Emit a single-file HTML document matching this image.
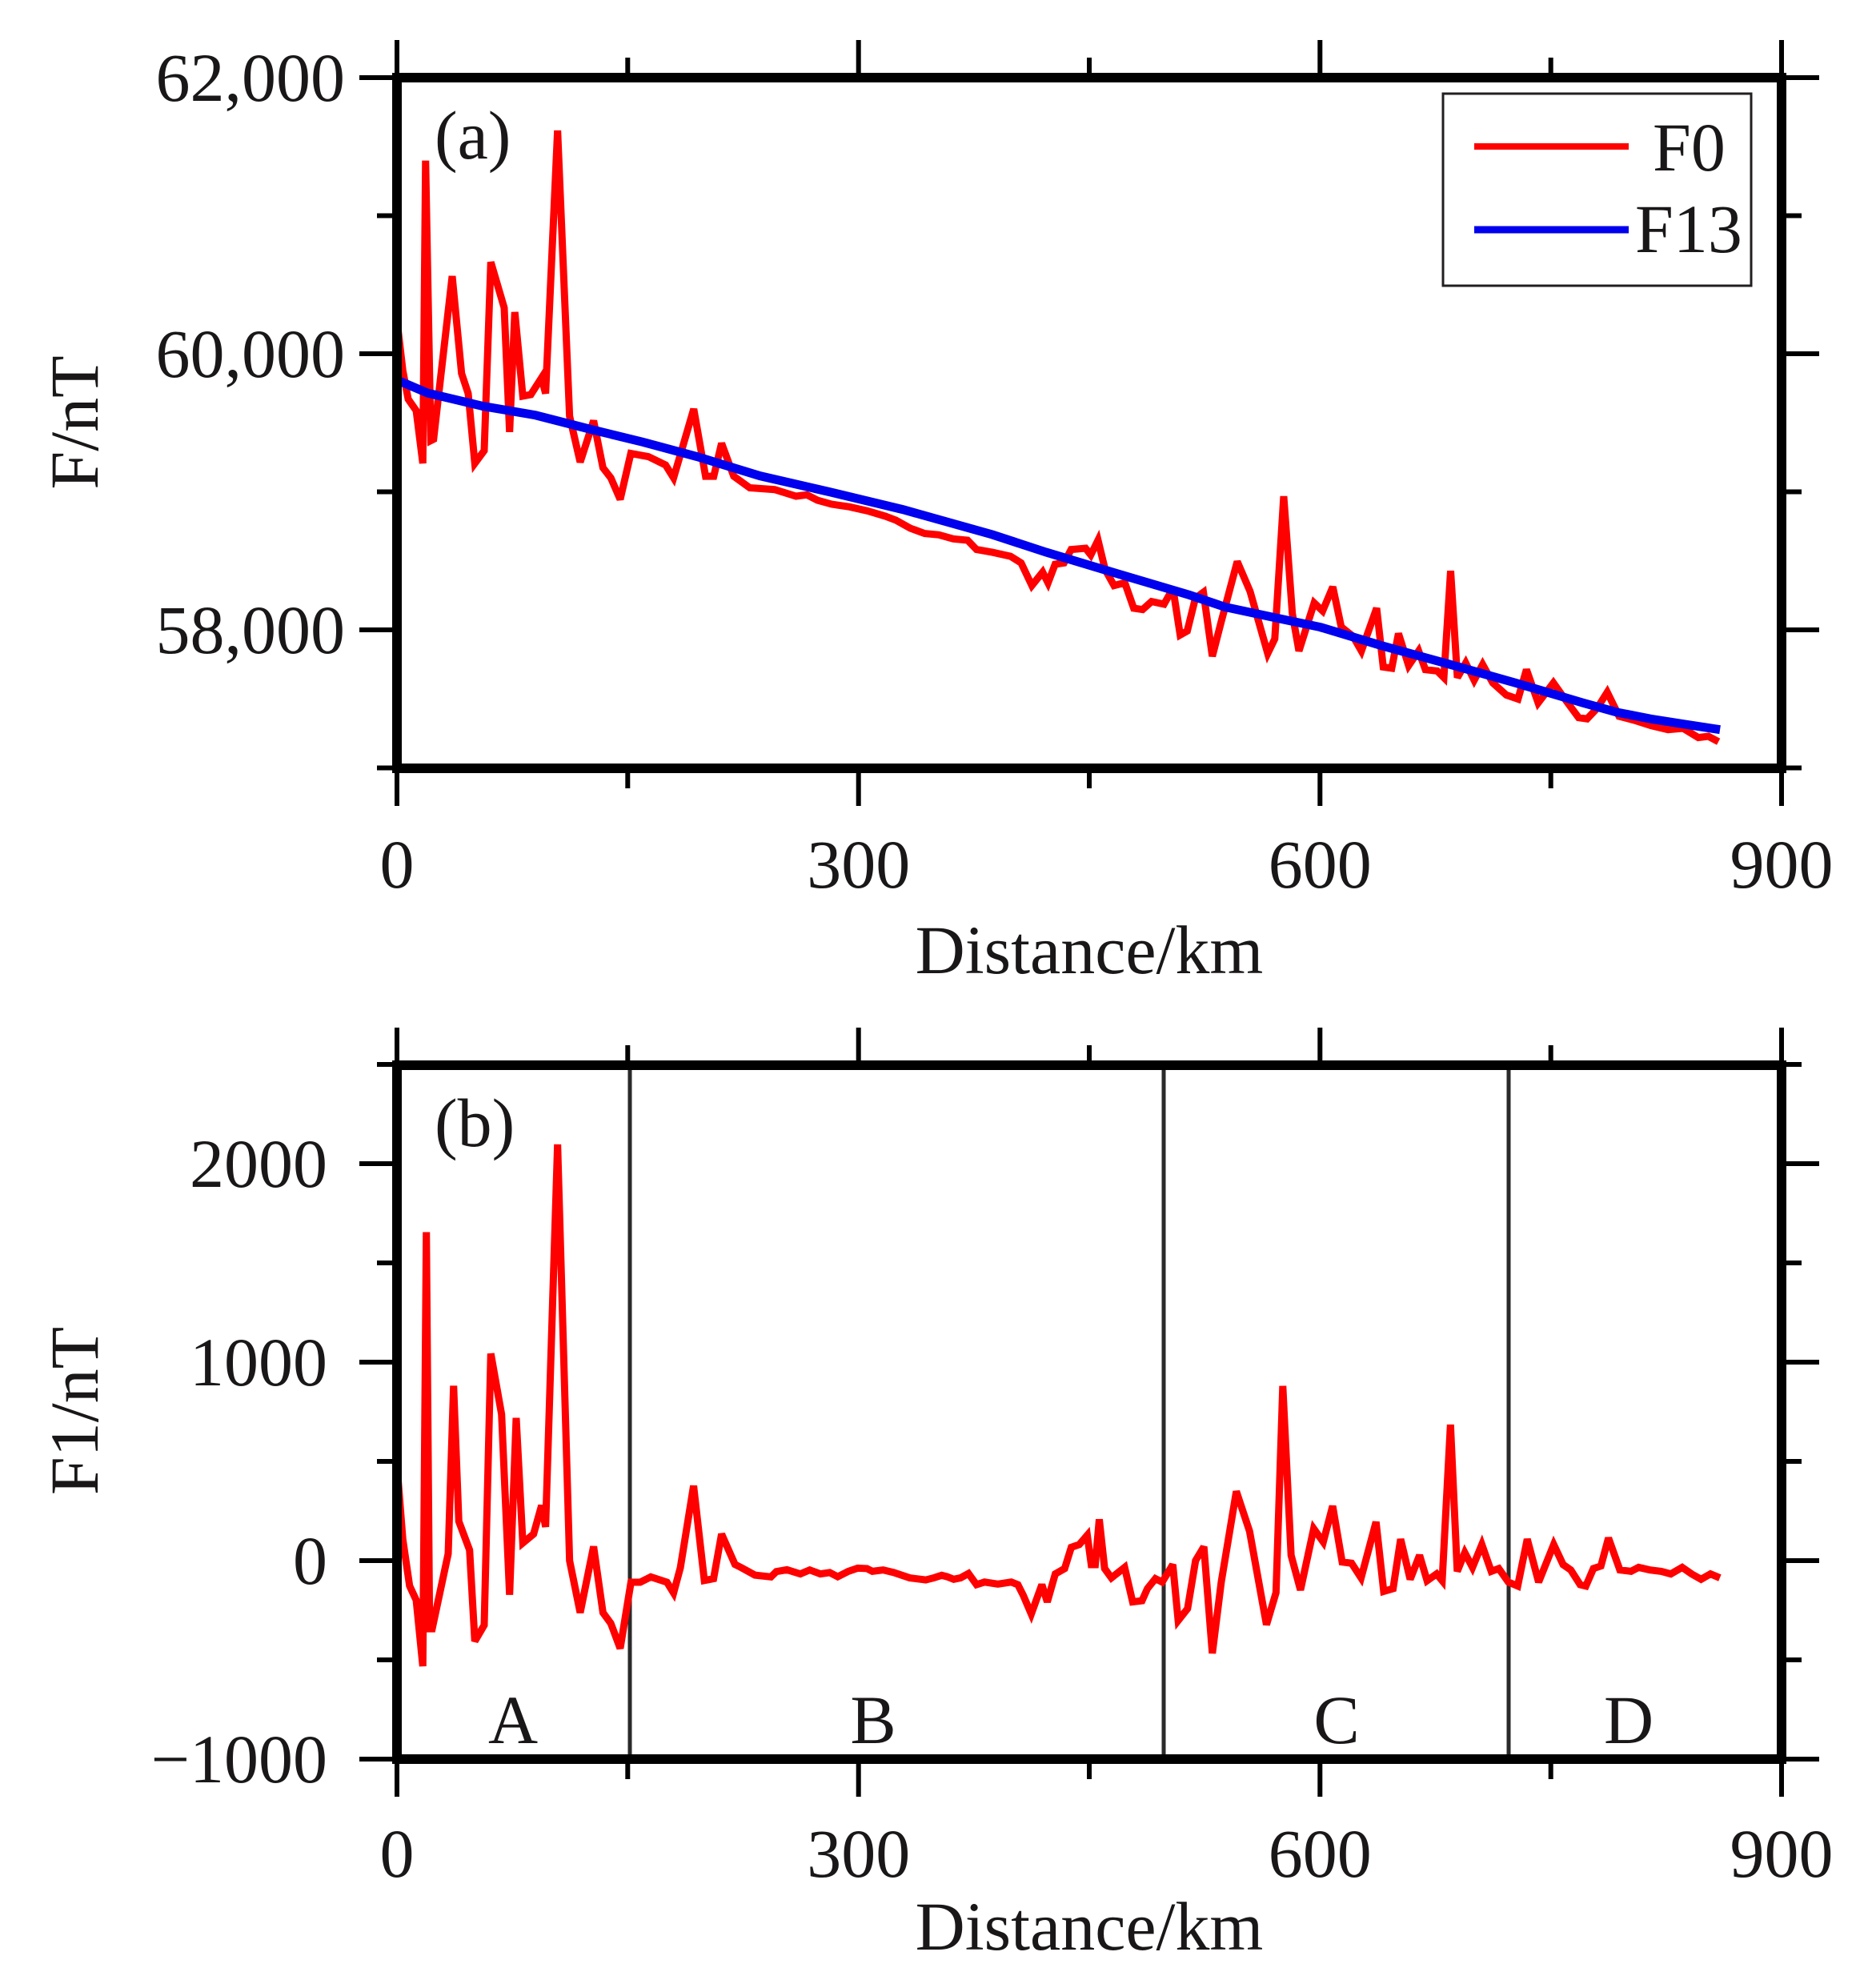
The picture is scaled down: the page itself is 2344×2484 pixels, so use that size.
<!DOCTYPE html>
<html>
<head>
<meta charset="utf-8">
<style>
  html, body { margin: 0; padding: 0; background: #fff; }
  svg { display: block; }
  text { font-family: "Liberation Serif", "Times New Roman", serif; fill: #1a1718; font-size: 86px; }
</style>
</head>
<body>
<svg width="2344" height="2484" viewBox="0 0 2344 2484" xmlns="http://www.w3.org/2000/svg">
  <rect x="0" y="0" width="2344" height="2484" fill="#fff"/>

  <!-- ================= PANEL A ================= -->
  <g transform="matrix(1.9222 0 0 -0.1725 496 10792)" fill="none" stroke-linejoin="miter" stroke-miterlimit="3">
    <polyline vector-effect="non-scaling-stroke" stroke="#ff0000" stroke-width="9" points="
      0,60240 3.8,59878 7.3,59671 12.5,59588 16.8,59206 18.6,61399 22,59371 23.8,59381 35.9,60562 42,59857
      46.3,59712 50.6,59206 56.7,59298 61,60664 69.7,60333 73.2,59433 76.6,60302 81.8,59693 87,59704 94,59826
      96.6,59712 104.4,61617 112.2,59548 119.1,59215 127.8,59515 133.9,59174 139,59101 145.1,58945 152,59278
      163.4,59255 174.6,59194 179.8,59101 192.9,59600 200.6,59112 205.9,59112 211,59351 218.9,59113 229.3,59029
      245.5,59016 259.4,58968 266.4,58978 273.3,58939 282.6,58910 294.2,58891 305.8,58862 317.5,58823 324.4,58794
      333.7,58736 343,58698 352.3,58688 361.6,58659 370.9,58649 376.7,58582 387,58562 398.8,58533 405.7,58485
      412.7,58321 419.7,58418 423.2,58340 427.8,58475 433.6,58485 438.2,58582 447.6,58591 451,58543 455.7,58649
      460.3,58437 466.1,58321 473.1,58341 478.9,58157 484.7,58147 490.5,58205 498.6,58186 504.4,58301 509.1,57963
      513.7,57992 519,58230 524.2,58272 530,57809 535.8,58060 546.2,58495 554.5,58280 566,57829 570.6,57935 576.4,58968
      582,58118 586.3,57847 596.2,58195 601.7,58137 608.3,58311 613.8,58021 621.4,57954 626.9,57847 636.8,58157
      641.1,57731 646.6,57722 651,57973 657.6,57741 664.1,57847 668.5,57712 676.2,57702 680.5,57654 684.9,58427
      689.3,57654 694.7,57760 700.2,57635 705.7,57749 712.3,57616 721.1,57528 728.7,57499 734.2,57712 741.8,57471
      751.7,57616 760.4,57480 768.1,57364 773.6,57355 780.1,57432 786.7,57548 794.4,57374 804.3,57345 815.2,57306
      826.2,57277 836,57287 845.9,57220 852.4,57229 859,57190"/>
    <polyline vector-effect="non-scaling-stroke" stroke="#0000ee" stroke-width="11" points="
      0,59810 20,59715 56,59620 90,59555 125,59455 160,59360 195,59255 236,59115 282,58997 329,58871 387,58690
      422,58562 468,58408 515,58253 538,58166 575,58078 600,58020 640,57886 684,57751 727,57616 771,57471
      793,57403 815,57355 837,57316 860,57277"/>
  </g>

  <!-- ticks panel a -->
  <g stroke="#000" stroke-width="6" fill="none">
    <line x1="449" y1="97" x2="496" y2="97"/>
    <line x1="471" y1="269.5" x2="496" y2="269.5"/>
    <line x1="449" y1="442" x2="496" y2="442"/>
    <line x1="471" y1="614.5" x2="496" y2="614.5"/>
    <line x1="449" y1="787" x2="496" y2="787"/>
    <line x1="471" y1="959.5" x2="496" y2="959.5"/>
    <line x1="2226" y1="97" x2="2273" y2="97"/>
    <line x1="2226" y1="269.5" x2="2251" y2="269.5"/>
    <line x1="2226" y1="442" x2="2273" y2="442"/>
    <line x1="2226" y1="614.5" x2="2251" y2="614.5"/>
    <line x1="2226" y1="787" x2="2273" y2="787"/>
    <line x1="2226" y1="959.5" x2="2251" y2="959.5"/>
    <line x1="496" y1="50" x2="496" y2="97"/>
    <line x1="784.3" y1="72" x2="784.3" y2="97"/>
    <line x1="1072.7" y1="50" x2="1072.7" y2="97"/>
    <line x1="1361" y1="72" x2="1361" y2="97"/>
    <line x1="1649.3" y1="50" x2="1649.3" y2="97"/>
    <line x1="1937.7" y1="72" x2="1937.7" y2="97"/>
    <line x1="2226" y1="50" x2="2226" y2="97"/>
    <line x1="496" y1="960" x2="496" y2="1007"/>
    <line x1="784.3" y1="960" x2="784.3" y2="985"/>
    <line x1="1072.7" y1="960" x2="1072.7" y2="1007"/>
    <line x1="1361" y1="960" x2="1361" y2="985"/>
    <line x1="1649.3" y1="960" x2="1649.3" y2="1007"/>
    <line x1="1937.7" y1="960" x2="1937.7" y2="985"/>
    <line x1="2226" y1="960" x2="2226" y2="1007"/>
  </g>
  <rect x="496" y="97" width="1730" height="863" fill="none" stroke="#000" stroke-width="12"/>

  <!-- legend -->
  <rect x="1803" y="117" width="385" height="240" fill="#fff" stroke="#231f20" stroke-width="3"/>
  <line x1="1842" y1="183" x2="2035" y2="183" stroke="#ff0000" stroke-width="8"/>
  <line x1="1842" y1="287" x2="2035" y2="287" stroke="#0000ee" stroke-width="9"/>
  <text x="2065" y="213">F0</text>
  <text x="2043" y="315">F13</text>

  <!-- labels panel a -->
  <text x="543" y="198">(a)</text>
  <g text-anchor="end">
    <text x="431" y="126">62,000</text>
    <text x="431" y="471">60,000</text>
    <text x="431" y="816">58,000</text>
  </g>
  <g text-anchor="middle">
    <text x="496" y="1109">0</text>
    <text x="1072.7" y="1109">300</text>
    <text x="1649.3" y="1109">600</text>
    <text x="2226" y="1109">900</text>
    <text x="1361" y="1216">Distance/km</text>
  </g>
  <text x="0" y="0" text-anchor="middle" transform="translate(122 528) rotate(-90)">F/nT</text>

  <!-- ================= PANEL B ================= -->
  <g stroke="#2a2a2a" stroke-width="5">
    <line x1="787" y1="1331" x2="787" y2="2198"/>
    <line x1="1454" y1="1331" x2="1454" y2="2198"/>
    <line x1="1885" y1="1331" x2="1885" y2="2198"/>
  </g>

  <g transform="matrix(1.9222 0 0 -0.248 496 1950)" fill="none" stroke-linejoin="miter" stroke-miterlimit="3">
    <polyline vector-effect="non-scaling-stroke" stroke="#ff0000" stroke-width="9" points="
      0.3,449 3.8,107 8.2,-127 12.5,-199 16.8,-532 19.1,1655 21.2,-343 22.9,-343 33.3,35 36.8,881 40.2,198
      47.2,53 50.6,-406 56.7,-325 61,1043 68,737 73.2,-172 77.5,719 81.8,89 88.8,134 94,278 96.6,170 104.4,2097
      112.2,0 119.1,-262 127.8,71 133.9,-262 139,-316 145.1,-442 152.1,-109 158.1,-109 165,-82 175.5,-109
      179.8,-163 184.2,-36 192.8,377 199.8,-100 205.8,-91 211,134 219.7,-19 224,-36 232.7,-73 243.1,-82
      246.6,-55 253.5,-46 262.2,-67 268.3,-47 275.2,-67 281.3,-60 286.5,-81 293.4,-54 299.5,-38 305.5,-40
      309,-54 316,-47 322.9,-60 333.3,-87 343.7,-97 348.9,-87 354.1,-74 357.6,-81 361.9,-94 366.3,-87 371.5,-65
      376.7,-121 381.9,-108 390.6,-118 399.3,-108 403.6,-121 407.1,-175 412.3,-269 419.2,-121 422.7,-208
      427.9,-67 434,-40 438.3,67 443.5,81 448.7,128 451.3,-20 453.9,-20 456.5,208 460,-40 464.4,-87 473,-34
      478.2,-208 484.3,-202 487.8,-141 493,-91 497.4,-108 504.3,-20 507.8,-302 513.9,-242 519.1,0 524.5,70
      530,-467 535.8,-108 545.6,349 554.2,148 565.2,-323 571.4,-161 575.8,880 581.2,27 587.3,-148 595.9,161
      602.1,94 608.2,275 614.4,-7 620.5,-13 626.7,-87 636.4,195 641.4,-155 647.5,-141 652.4,108 658.6,-94
      664.7,27 669.6,-101 675.8,-67 679.4,-101 684.8,685 689.2,-54 694.1,40 699.1,-34 705.2,81 711.3,-54
      716.2,-40 722.4,-108 728.5,-128 734.7,108 742.1,-108 751.9,81 758,-20 763,-47 769.1,-121 772.8,-128
      777.7,-40 782.6,-27 787.5,114 794.9,-47 802.2,-54 807.1,-34 814.5,-47 821.8,-54 828,-67 835.4,-34
      841.5,-67 847.7,-94 853.8,-67 859.9,-87"/>
  </g>

  <!-- ticks panel b -->
  <g stroke="#000" stroke-width="6" fill="none">
    <line x1="471" y1="1330" x2="496" y2="1330"/>
    <line x1="449" y1="1454" x2="496" y2="1454"/>
    <line x1="471" y1="1578" x2="496" y2="1578"/>
    <line x1="449" y1="1702" x2="496" y2="1702"/>
    <line x1="471" y1="1826" x2="496" y2="1826"/>
    <line x1="449" y1="1950" x2="496" y2="1950"/>
    <line x1="471" y1="2074" x2="496" y2="2074"/>
    <line x1="449" y1="2198" x2="496" y2="2198"/>
    <line x1="2226" y1="1330" x2="2251" y2="1330"/>
    <line x1="2226" y1="1454" x2="2273" y2="1454"/>
    <line x1="2226" y1="1578" x2="2251" y2="1578"/>
    <line x1="2226" y1="1702" x2="2273" y2="1702"/>
    <line x1="2226" y1="1826" x2="2251" y2="1826"/>
    <line x1="2226" y1="1950" x2="2273" y2="1950"/>
    <line x1="2226" y1="2074" x2="2251" y2="2074"/>
    <line x1="2226" y1="2198" x2="2273" y2="2198"/>
    <line x1="496" y1="1284" x2="496" y2="1331"/>
    <line x1="784.3" y1="1306" x2="784.3" y2="1331"/>
    <line x1="1072.7" y1="1284" x2="1072.7" y2="1331"/>
    <line x1="1361" y1="1306" x2="1361" y2="1331"/>
    <line x1="1649.3" y1="1284" x2="1649.3" y2="1331"/>
    <line x1="1937.7" y1="1306" x2="1937.7" y2="1331"/>
    <line x1="2226" y1="1284" x2="2226" y2="1331"/>
    <line x1="496" y1="2198" x2="496" y2="2245"/>
    <line x1="784.3" y1="2198" x2="784.3" y2="2223"/>
    <line x1="1072.7" y1="2198" x2="1072.7" y2="2245"/>
    <line x1="1361" y1="2198" x2="1361" y2="2223"/>
    <line x1="1649.3" y1="2198" x2="1649.3" y2="2245"/>
    <line x1="1937.7" y1="2198" x2="1937.7" y2="2223"/>
    <line x1="2226" y1="2198" x2="2226" y2="2245"/>
  </g>
  <rect x="496" y="1331" width="1730" height="867" fill="none" stroke="#000" stroke-width="12"/>

  <!-- labels panel b -->
  <text x="543" y="1432">(b)</text>
  <g text-anchor="end">
    <text x="409" y="1483">2000</text>
    <text x="409" y="1731">1000</text>
    <text x="409" y="1979">0</text>
    <text x="409" y="2227">−1000</text>
  </g>
  <g text-anchor="middle">
    <text x="641" y="2178">A</text>
    <text x="1091" y="2178">B</text>
    <text x="1670" y="2178">C</text>
    <text x="2035" y="2178">D</text>
    <text x="496" y="2345">0</text>
    <text x="1072.7" y="2345">300</text>
    <text x="1649.3" y="2345">600</text>
    <text x="2226" y="2345">900</text>
    <text x="1361" y="2436">Distance/km</text>
  </g>
  <text x="0" y="0" text-anchor="middle" transform="translate(122 1763) rotate(-90)">F1/nT</text>
</svg>
</body>
</html>
